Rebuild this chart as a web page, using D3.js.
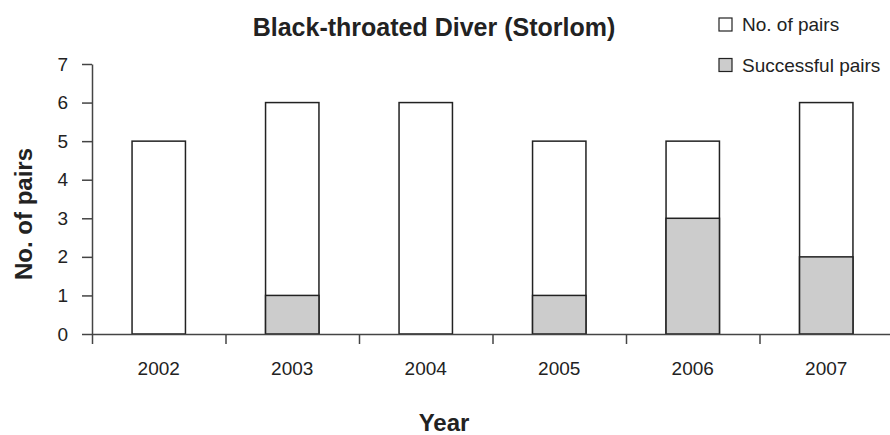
<!DOCTYPE html>
<html>
<head>
<meta charset="utf-8">
<script src="https://cdn.jsdelivr.net/npm/d3@7"></script>
<style>
  body { margin: 0; background: #fff; }
  text { font-family: Arial, "Liberation Sans", sans-serif; fill: #222; }
</style>
</head>
<body>
<svg width="890" height="435"></svg>
<script>
const years = ["2002", "2003", "2004", "2005", "2006", "2007"];
const pairs = [5, 6, 6, 5, 5, 6];
const successful = [0, 1, 0, 1, 3, 2];
const yTicks = [0, 1, 2, 3, 4, 5, 6, 7];

const gray = "#cccccc", ink = "#222", axisInk = "#444";
const svg = d3.select("svg");

let xScale = d3.scaleBand().domain(years).range([92, 893])
  .paddingInner(0.6).paddingOuter(0.3);
let xEdges = d3.scaleLinear().domain([0, years.length]).range([92, 893]);
let yScale = d3.scaleLinear().domain([0, 7]).range([334, 64]);

// bars: total pairs, then successful pairs drawn over them
svg.selectAll("rect.pairs")
  .data(years)
  .join("rect")
  .attr("class", "pairs")
  .attr("x", d => xScale(d))
  .attr("width", xScale.bandwidth())
  .attr("y", (d, i) => yScale(pairs[i]))
  .attr("height", (d, i) => yScale(0) - yScale(pairs[i]))
  .attr("fill", "#fff")
  .attr("stroke", ink)
  .attr("stroke-width", 1.5);

svg.selectAll("rect.success")
  .data(years)
  .join("rect")
  .attr("class", "success")
  .attr("x", d => xScale(d))
  .attr("width", xScale.bandwidth())
  .attr("y", (d, i) => yScale(successful[i]))
  .attr("height", (d, i) => yScale(0) - yScale(successful[i]))
  .attr("fill", gray)
  .attr("stroke", ink)
  .attr("stroke-width", 1.5);

// y axis
let yAxis = d3.axisLeft(yScale).tickValues(yTicks).tickFormat(d3.format("d"))
  .tickSizeOuter(0).tickSizeInner(10).tickPadding(14);
svg.append("g").attr("transform", "translate(92,0)").call(yAxis);

// x axis: tick marks at category edges, labels at centers
let xEdgeAxis = d3.axisBottom(xEdges).ticks(years.length)
  .tickFormat("").tickSizeOuter(0).tickSizeInner(10);
svg.append("g").attr("transform", "translate(0,334)").call(xEdgeAxis);

let xAxis = d3.axisBottom(xScale).tickSize(0).tickPadding(27.5);
let xAxisG = svg.append("g").attr("transform", "translate(0,334)").call(xAxis);
xAxisG.select(".domain").remove();

svg.selectAll(".domain, .tick line")
  .attr("stroke", axisInk)
  .attr("stroke-width", 1.5);
svg.selectAll(".tick text")
  .style("font-family", "Arial, 'Liberation Sans', sans-serif")
  .style("font-size", "19px")
  .attr("fill", ink);

// titles
svg.append("text")
  .attr("x", 434).attr("y", 36)
  .attr("text-anchor", "middle")
  .style("font-size", "25px").style("font-weight", "bold")
  .text("Black-throated Diver (Storlom)");

svg.append("text")
  .attr("transform", "translate(32,214) rotate(-90)")
  .attr("text-anchor", "middle")
  .style("font-size", "24px").style("font-weight", "bold")
  .text("No. of pairs");

svg.append("text")
  .attr("x", 444).attr("y", 431)
  .attr("text-anchor", "middle")
  .style("font-size", "24px").style("font-weight", "bold")
  .text("Year");

// legend
const legendItems = [
  { label: "No. of pairs", fill: "#fff" },
  { label: "Successful pairs", fill: gray }
];
let legend = svg.selectAll("g.legend")
  .data(legendItems)
  .join("g")
  .attr("class", "legend")
  .attr("transform", (d, i) => `translate(719,${18 + i * 40.5})`);
legend.append("rect")
  .attr("width", 13).attr("height", 13)
  .attr("fill", d => d.fill)
  .attr("stroke", ink).attr("stroke-width", 1.2);
legend.append("text")
  .attr("x", 23).attr("y", 13)
  .style("font-size", "19px")
  .text(d => d.label);
</script>
</body>
</html>
